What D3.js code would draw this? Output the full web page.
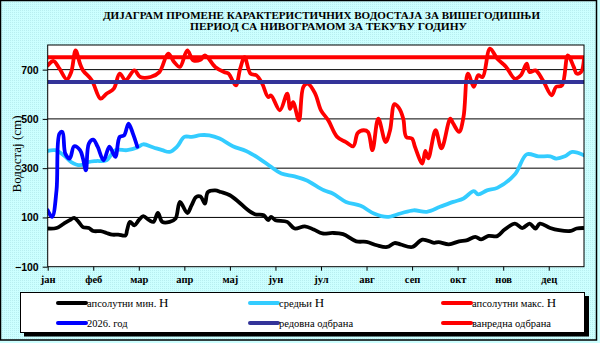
<!DOCTYPE html>
<html>
<head>
<meta charset="utf-8">
<script src="https://cdn.jsdelivr.net/npm/d3@7"></script>
<style>
  html, body { margin: 0; padding: 0; background: #ccffff; }
  svg { display: block; }
</style>
</head>
<body>
<div id="chart"></div>
<script>
// month labels, one every 31 days on the category axis
const months = ['јан', 'феб', 'мар', 'апр', 'мај', 'јун', 'јул', 'авг', 'сеп', 'окт', 'нов', 'дец'];
const yTicks = [-100, 100, 300, 500, 700];

// апсолутни мин. H
const minDay = [0, 6, 11, 15, 18, 21, 24, 28, 31, 36, 40, 44, 48, 53, 54, 56, 59, 62, 65, 69, 72, 75, 78, 83, 87, 90, 95, 98, 101, 104, 107, 109, 114, 118, 124, 130, 135, 141, 147, 150, 152, 155, 163, 168, 175, 181, 187, 194, 201, 210, 217, 224, 231, 236, 240, 248, 255, 263, 266, 273, 280, 285, 291, 295, 300, 306, 311, 318, 323, 328, 332, 335, 342, 348, 356, 360, 365];
const minH = [55, 57, 75, 89, 98, 82, 61, 57, 45, 44, 37, 30, 30, 27, 48, 82, 68, 89, 105, 89, 82, 118, 82, 82, 95, 163, 118, 150, 183, 185, 156, 203, 210, 203, 190, 163, 136, 113, 109, 89, 102, 89, 82, 55, 64, 51, 35, 37, 32, 3, 1, -13, -20, -4, -9, -20, 10, -3, 0, -9, 3, 7, 21, 11, 25, 24, 51, 75, 57, 75, 55, 75, 57, 48, 45, 55, 57];

// средњи H
const meanDay = [0, 5, 11, 16, 22, 28, 33, 40, 46, 54, 61, 65, 72, 78, 83, 88, 93, 98, 104, 110, 117, 126, 135, 144, 152, 159, 168, 176, 188, 194, 203, 213, 222, 231, 240, 249, 258, 267, 276, 283, 290, 293, 299, 306, 318, 326, 334, 342, 346, 352, 357, 365];
const meanH = [370, 373, 352, 325, 312, 325, 329, 332, 373, 373, 384, 397, 384, 373, 366, 387, 427, 427, 434, 433, 420, 389, 370, 339, 305, 278, 267, 251, 210, 197, 163, 147, 116, 102, 116, 129, 123, 143, 163, 177, 207, 194, 210, 220, 275, 356, 348, 348, 339, 348, 366, 352];

// апсолутни макс. H
const maxDay = [0, 4, 8, 13, 16, 19, 22, 24, 30, 36, 40, 45, 49, 53, 59, 63, 70, 76, 82, 86, 90, 95, 99, 104, 107, 114, 120, 123, 128, 131, 134, 138, 142, 146, 150, 152, 158, 163, 165, 167, 171, 174, 177, 182, 186, 191, 197, 203, 208, 211, 215, 218, 221, 225, 230, 233, 236, 239, 242, 244, 248, 250, 255, 257, 259, 264, 268, 274, 276, 280, 283, 286, 290, 293, 296, 301, 306, 312, 318, 322, 326, 328, 332, 337, 343, 346, 350, 354, 358, 360, 363, 365];
const maxH = [717, 735, 704, 660, 690, 778, 724, 697, 657, 582, 602, 623, 684, 657, 697, 670, 670, 690, 765, 731, 711, 778, 738, 740, 758, 711, 690, 684, 636, 704, 751, 684, 677, 643, 589, 595, 535, 603, 541, 568, 494, 630, 643, 603, 535, 494, 427, 406, 389, 443, 454, 447, 373, 501, 406, 454, 560, 545, 501, 427, 420, 386, 319, 370, 340, 454, 380, 501, 481, 447, 508, 684, 630, 677, 670, 785, 744, 711, 663, 677, 724, 690, 697, 657, 596, 630, 636, 758, 711, 684, 690, 744];

// 2026. год
const curDay = [0, 3, 6, 8, 10, 12, 15, 18, 22, 24, 26, 28, 31, 34, 38, 42, 46, 49, 52, 55, 58, 61];
const curH = [129, 102, 210, 440, 447, 359, 339, 389, 373, 339, 291, 400, 416, 387, 332, 387, 346, 427, 433, 481, 440, 387];

// одбрана од поплава
const regularDefence = 650;
const extraDefence = 750;

const width = 600;
const height = 343;
const plotL = 47.7, plotR = 584, plotT = 45, plotB = 266.7;

const svg = d3.select('#chart')
    .append('svg')
    .attr('width', width)
    .attr('height', height);

// dotted cyan background
const defs = svg.append('defs');
const pat = defs.append('pattern')
    .attr('id', 'dots')
    .attr('width', 2)
    .attr('height', 2)
    .attr('patternUnits', 'userSpaceOnUse');
pat.append('rect').attr('width', 2).attr('height', 2).attr('fill', '#ccffff');
pat.append('rect').attr('width', 1).attr('height', 1).attr('fill', '#b8eef0');

svg.append('rect')
    .attr('x', 0.5).attr('y', 0.5)
    .attr('width', width - 4).attr('height', height - 3.5)
    .attr('fill', 'url(#dots)')
    .attr('stroke', '#000')
    .attr('stroke-width', 1.5);

// title
const title = svg.append('g')
    .attr('font-family', '"Liberation Serif", "Times New Roman", serif')
    .attr('font-weight', 'bold')
    .attr('font-size', '10.5px')
    .attr('fill', '#000');
title.append('text')
    .attr('x', 103).attr('y', 19)
    .attr('textLength', 437)
    .attr('lengthAdjust', 'spacingAndGlyphs')
    .text('ДИЈАГРАМ ПРОМЕНЕ КАРАКТЕРИСТИЧНИХ ВОДОСТАЈА ЗА ВИШЕГОДИШЊИ');
title.append('text')
    .attr('x', 190).attr('y', 30)
    .attr('textLength', 277)
    .attr('lengthAdjust', 'spacingAndGlyphs')
    .text('ПЕРИОД СА НИВОГРАМОМ ЗА ТЕКУЋУ ГОДИНУ');

const x = d3.scaleLinear().domain([0, 365]).range([plotL, plotR]);
const y = d3.scaleLinear().domain([-100, 800]).range([plotB, plotT]);

// plot area
svg.append('rect')
    .attr('x', plotL).attr('y', plotT)
    .attr('width', plotR - plotL).attr('height', plotB - plotT)
    .attr('fill', '#fff');

svg.append('g')
    .selectAll('line')
    .data(yTicks.slice(1))
    .enter()
    .append('line')
    .attr('x1', plotL).attr('x2', plotR)
    .attr('y1', d => y(d)).attr('y2', d => y(d))
    .attr('stroke', '#000')
    .attr('stroke-width', 1);

// axes
const yAxis = svg.append('g')
    .attr('transform', 'translate(' + plotL + ',0)')
    .call(d3.axisLeft(y).tickValues(yTicks).tickSize(5).tickPadding(4));
yAxis.select('.domain').remove();
yAxis.selectAll('line').attr('stroke', '#000');
yAxis.selectAll('text')
    .attr('font-family', '"Liberation Sans", Arial, sans-serif')
    .attr('font-weight', 'bold')
    .attr('font-size', '10.5px')
    .attr('fill', '#000');

const xAxis = svg.append('g')
    .attr('transform', 'translate(0,' + plotB + ')')
    .call(d3.axisBottom(x)
        .tickValues(months.map((m, i) => i * 31))
        .tickFormat((d, i) => months[i])
        .tickSize(4)
        .tickPadding(5));
xAxis.select('.domain').remove();
xAxis.selectAll('line').attr('stroke', '#000');
xAxis.selectAll('text')
    .attr('font-family', '"Liberation Serif", "Times New Roman", serif')
    .attr('font-weight', 'bold')
    .attr('font-size', '10.5px')
    .attr('fill', '#000');

svg.append('text')
    .attr('transform', 'translate(21,154) rotate(-90)')
    .attr('text-anchor', 'middle')
    .attr('font-family', '"Liberation Serif", "Times New Roman", serif')
    .attr('font-size', '13px')
    .attr('fill', '#000')
    .text('Водостај (cm)');

// series
const line = d3.line()
    .x(d => x(d[0]))
    .y(d => y(d[1]))
    .curve(d3.curveCatmullRom.alpha(0.5));

const clip = defs.append('clipPath').attr('id', 'plot');
clip.append('rect')
    .attr('x', plotL).attr('y', plotT)
    .attr('width', plotR - plotL).attr('height', plotB - plotT);

const series = [
    { days: minDay, values: minH, color: '#000000' },
    { days: meanDay, values: meanH, color: '#33ccff' },
    { days: maxDay, values: maxH, color: '#ff0000' },
    { days: curDay, values: curH, color: '#0000ff' }
];

const plot = svg.append('g').attr('clip-path', 'url(#plot)');
plot.selectAll('path')
    .data(series)
    .enter()
    .append('path')
    .attr('d', s => line(s.days.map((d, i) => [d, s.values[i]])))
    .attr('fill', 'none')
    .attr('stroke', s => s.color)
    .attr('stroke-width', 3.8)
    .attr('stroke-linejoin', 'round')
    .attr('stroke-linecap', 'round');

plot.selectAll('line.defence')
    .data([{ v: regularDefence, color: '#333399' }, { v: extraDefence, color: '#ff0000' }])
    .enter()
    .append('line')
    .attr('class', 'defence')
    .attr('x1', plotL).attr('x2', plotR)
    .attr('y1', d => y(d.v)).attr('y2', d => y(d.v))
    .attr('stroke', d => d.color)
    .attr('stroke-width', 4);

svg.append('rect')
    .attr('x', plotL).attr('y', plotT)
    .attr('width', plotR - plotL).attr('height', plotB - plotT)
    .attr('fill', 'none')
    .attr('stroke', '#000')
    .attr('stroke-width', 1);

// legend
const lg = svg.append('g');
lg.append('rect')
    .attr('x', 24).attr('y', 296)
    .attr('width', 565).attr('height', 40.5)
    .attr('fill', '#000');
lg.append('rect')
    .attr('x', 20.5).attr('y', 292.5)
    .attr('width', 564).attr('height', 40)
    .attr('fill', '#fff')
    .attr('stroke', '#000')
    .attr('stroke-width', 1);

const legendItems = [
    { label: 'апсолутни мин. ', color: '#000000', col: 0, row: 0 },
    { label: 'средњи ', color: '#33ccff', col: 1, row: 0 },
    { label: 'апсолутни макс. ', color: '#ff0000', col: 2, row: 0 },
    { label: '2026. год', color: '#0000ff', col: 0, row: 1 },
    { label: 'редовна одбрана', color: '#333399', col: 1, row: 1 },
    { label: 'ванредна одбрана', color: '#ff0000', col: 2, row: 1 }
];
const colX = [58, 250, 443];
const rowY = [303, 323];

const item = lg.selectAll('g.item')
    .data(legendItems)
    .enter()
    .append('g')
    .attr('class', 'item')
    .attr('transform', d => 'translate(' + colX[d.col] + ',' + rowY[d.row] + ')');
item.append('line')
    .attr('x1', 0).attr('x2', 28)
    .attr('stroke', d => d.color)
    .attr('stroke-width', 4)
    .attr('stroke-linecap', 'round');
const txt = item.append('text')
    .attr('x', 29).attr('y', 3.5)
    .attr('font-family', '"Liberation Serif", "Times New Roman", serif')
    .attr('font-size', '10.5px')
    .attr('fill', '#000');
txt.append('tspan').text(d => d.label);
txt.filter(d => d.row === 0)
    .append('tspan')
    .attr('font-size', '13px')
    .text('H');
</script>
</body>
</html>
